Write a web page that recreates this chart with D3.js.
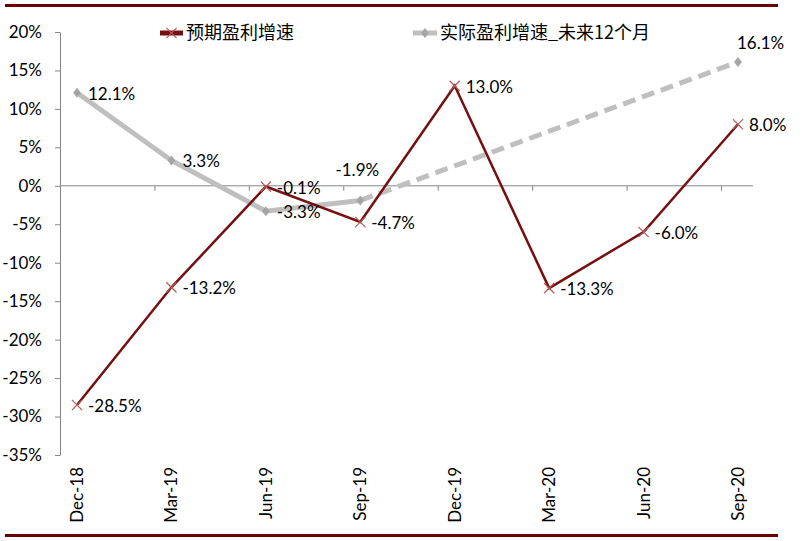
<!DOCTYPE html>
<html>
<head>
<meta charset="utf-8">
<script src="https://cdn.jsdelivr.net/npm/d3@7"></script>
<style>
  body { margin: 0; background: #fff; }
  text { font-family: Lato, "Noto Sans", sans-serif; fill: #000; }
</style>
</head>
<body>
<svg id="chart" width="809" height="541"></svg>
<script>
// data
var months = ["Dec-18", "Mar-19", "Jun-19", "Sep-19", "Dec-19", "Mar-20", "Jun-20", "Sep-20"];
var forecast = [-28.5, -13.2, -0.1, -4.7, 13.0, -13.3, -6.0, 8.0];
var actual = [12.1, 3.3, -3.3, -1.9, null, null, null, 16.1];
var yTicks = [20, 15, 10, 5, 0, -5, -10, -15, -20, -25, -30, -35];
var seriesNames = ["预期盈利增速", "实际盈利增速_未来12个月"];
// where each data label sits
var forecastLabelPos = ["right", "right", "right", "right", "right", "right", "right", "right"];
var actualLabelPos = ["right", "right", "right", "above", null, null, null, "aboveRight"];

var svg = d3.select("#chart");
var red = "#741010", redMark = "#b45a5a", grey = "#bfbfbf", greyMark = "#a5a5a5";

var x = d3.scalePoint().domain(months).range([77, 738]);
var y = d3.scaleLinear().domain([-35, 20]).range([455, 32]);

// frame lines top and bottom
svg.append("line").attr("x1", 5).attr("x2", 778).attr("y1", 5.5).attr("y2", 5.5)
  .attr("stroke", "#6b0000").attr("stroke-width", 3);
svg.append("line").attr("x1", 5).attr("x2", 778).attr("y1", 535.5).attr("y2", 535.5)
  .attr("stroke", "#6b0000").attr("stroke-width", 3);

// y axis
var yAxis = svg.append("g").attr("transform", "translate(60,0)")
  .call(d3.axisLeft(y).tickValues(yTicks).tickSize(5).tickSizeOuter(0).tickPadding(13)
    .tickFormat(function(d) { return d + "%"; }));
yAxis.selectAll("path, line").attr("stroke", "#868686");
yAxis.selectAll("text").style("font-size", "17px").attr("fill", "#000");

// zero line acting as the category axis
svg.append("line").attr("x1", 60).attr("x2", 753).attr("y1", y(0)).attr("y2", y(0))
  .attr("stroke", "#868686");
svg.selectAll(".xtick").data(months.slice(1)).enter().append("line")
  .attr("x1", function(d) { return x(d) - 16.5; }).attr("x2", function(d) { return x(d) - 16.5; })
  .attr("y1", y(0)).attr("y2", y(0) + 5).attr("stroke", "#868686");

// category labels, rotated
svg.selectAll(".xlab").data(months).enter().append("text")
  .attr("transform", function(d) { return "translate(" + x(d) + ",467) rotate(-90)"; })
  .attr("text-anchor", "end").attr("dy", "0.35em")
  .style("font-size", "17px").text(function(d) { return d; });

// actual series: solid part and dashed tail
var pts = months.map(function(m, i) { return { m: m, v: actual[i], pos: actualLabelPos[i] }; });
var line = d3.line().defined(function(d) { return d.v !== null; })
  .x(function(d) { return x(d.m); }).y(function(d) { return y(d.v); });
var defined = pts.filter(function(d) { return d.v !== null; });
svg.append("path").datum(pts.slice(0, 4)).attr("d", line)
  .attr("fill", "none").attr("stroke", grey).attr("stroke-width", 5);
svg.append("path").datum([defined[3], defined[4]]).attr("d", line)
  .attr("fill", "none").attr("stroke", grey).attr("stroke-width", 5).attr("stroke-dasharray", "13,7");
svg.selectAll(".dia").data(defined).enter().append("path")
  .attr("d", d3.symbol(d3.symbolDiamond, 40))
  .attr("transform", function(d) { return "translate(" + x(d.m) + "," + y(d.v) + ") scale(1.15,0.85)"; })
  .attr("fill", greyMark);

// forecast series
var fpts = months.map(function(m, i) { return { m: m, v: forecast[i], pos: forecastLabelPos[i] }; });
svg.append("path").datum(fpts).attr("d", line)
  .attr("fill", "none").attr("stroke", red).attr("stroke-width", 2.5);
svg.selectAll(".xm").data(fpts).enter().append("path")
  .attr("d", d3.symbol(d3.symbolX, 70))
  .attr("transform", function(d) { return "translate(" + x(d.m) + "," + y(d.v) + ")"; })
  .attr("fill", "none").attr("stroke", redMark).attr("stroke-width", 1.2);

// data labels
function addLabels(data) {
  svg.selectAll(null).data(data).enter().append("text")
    .attr("x", function(d) {
      if (d.pos === "above") return x(d.m) - 3;
      if (d.pos === "aboveRight") return x(d.m) - 1;
      return x(d.m) + 11;
    })
    .attr("y", function(d) {
      if (d.pos === "above") return y(d.v) - 30;
      if (d.pos === "aboveRight") return y(d.v) - 19;
      return y(d.v) + 1;
    })
    .attr("dy", "0.35em")
    .attr("text-anchor", function(d) { return d.pos === "above" ? "middle" : "start"; })
    .style("font-size", "17px")
    .text(function(d) { return d.v.toFixed(1) + "%"; });
}
addLabels(defined);
addLabels(fpts);

// legend
var leg = svg.append("g");
leg.append("line").attr("x1", 160).attr("x2", 183).attr("y1", 33).attr("y2", 33)
  .attr("stroke", red).attr("stroke-width", 5);
leg.append("path").attr("d", d3.symbol(d3.symbolX, 70))
  .attr("transform", "translate(171.5,33)").attr("fill", "none").attr("stroke", redMark).attr("stroke-width", 1.2);
leg.append("text").attr("x", 186).attr("y", 33).attr("dy", "0.35em")
  .style("font-family", "'Noto Sans CJK SC', sans-serif").style("font-size", "18px").text(seriesNames[0]);
leg.append("line").attr("x1", 413).attr("x2", 437).attr("y1", 33).attr("y2", 33)
  .attr("stroke", grey).attr("stroke-width", 5);
leg.append("path").attr("d", d3.symbol(d3.symbolDiamond, 40))
  .attr("transform", "translate(425,33) scale(1.15,0.85)").attr("fill", greyMark);
leg.append("text").attr("x", 440).attr("y", 33).attr("dy", "0.35em")
  .style("font-family", "'Noto Sans CJK SC', sans-serif").style("font-size", "18px").text(seriesNames[1]);
</script>
</body>
</html>
